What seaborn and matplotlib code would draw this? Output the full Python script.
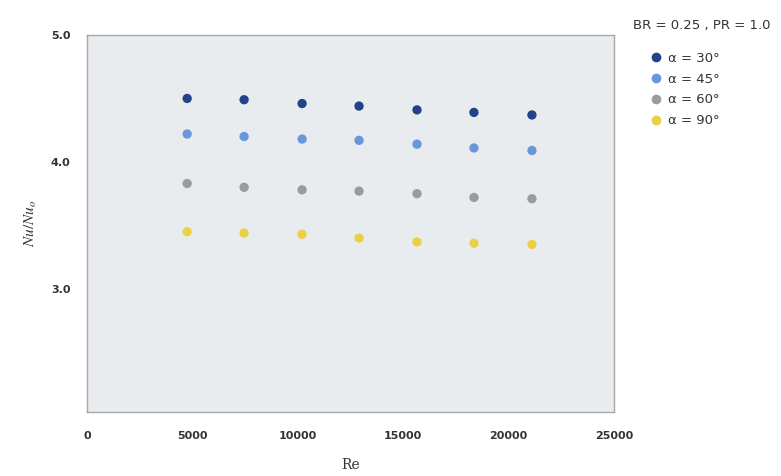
import numpy as np
import pandas as pd
import matplotlib
matplotlib.use("Agg")
import matplotlib.pyplot as plt
import seaborn as sns

# data
re_vals = [4750, 7450, 10200, 12900, 15650, 18350, 21100]
nu_30 = [4.50, 4.49, 4.46, 4.44, 4.41, 4.39, 4.37]
nu_45 = [4.22, 4.20, 4.18, 4.17, 4.14, 4.11, 4.09]
nu_60 = [3.83, 3.80, 3.78, 3.77, 3.75, 3.72, 3.71]
nu_90 = [3.45, 3.44, 3.43, 3.40, 3.37, 3.36, 3.35]
labels = ['α = 30°', 'α = 45°', 'α = 60°', 'α = 90°']
colors = ['#22428a', '#6a96dc', '#9a9b9e', '#e9d045']

df = pd.concat([
    pd.DataFrame({'Re': re_vals, 'Nu': v, 'angle': lab})
    for v, lab in zip([nu_30, nu_45, nu_60, nu_90], labels)
])

sns.set_style('white')
plt.rcParams['mathtext.fontset'] = 'stix'
fig = plt.figure(figsize=(7.81, 4.76), dpi=100)
ax = fig.add_axes([0.1114, 0.1345, 0.675, 0.792])
ax.set_facecolor('#e9ecef')

sns.scatterplot(data=df, x='Re', y='Nu', hue='angle', palette=colors,
                s=45, linewidth=0, ax=ax)

ax.set_xlim(0, 25000)
ax.set_ylim(2.03, 5.0)
ax.set_xticks([0, 5000, 10000, 15000, 20000, 25000])
ax.set_yticks([3.0, 4.0, 5.0])
ax.set_yticklabels(['3.0', '4.0', '5.0'])
ax.tick_params(axis='x', length=0, labelsize=8, labelcolor='#333333', pad=14)
ax.tick_params(axis='y', length=0, labelsize=8, labelcolor='#333333', pad=12)
for lab in ax.get_xticklabels() + ax.get_yticklabels():
    lab.set_fontweight('bold')
for sp in ax.spines.values():
    sp.set_color('#a8a8a8')
    sp.set_linewidth(1.0)

ax.set_xlabel('Re', family='serif', fontsize=10, color='#333333', labelpad=12)
ax.set_ylabel(r'$Nu/Nu_{o}$', fontsize=11, color='#333333', labelpad=8)

leg = ax.legend(title='BR = 0.25 , PR = 1.0', loc='upper left',
                bbox_to_anchor=(1.036, 1.042), frameon=False,
                fontsize=9.5, title_fontsize=9.5, handletextpad=-0.85,
                handlelength=3.5, labelspacing=0.6, borderaxespad=0,
                borderpad=0)
leg._legend_box.align = 'left'
leg._legend_box.sep = 14
for t in leg.get_texts():
    t.set_color('#333333')
leg.get_title().set_color('#333333')
for h in leg.legend_handles:
    h.set_markersize(7)

fig.savefig('out.png', dpi=100)
